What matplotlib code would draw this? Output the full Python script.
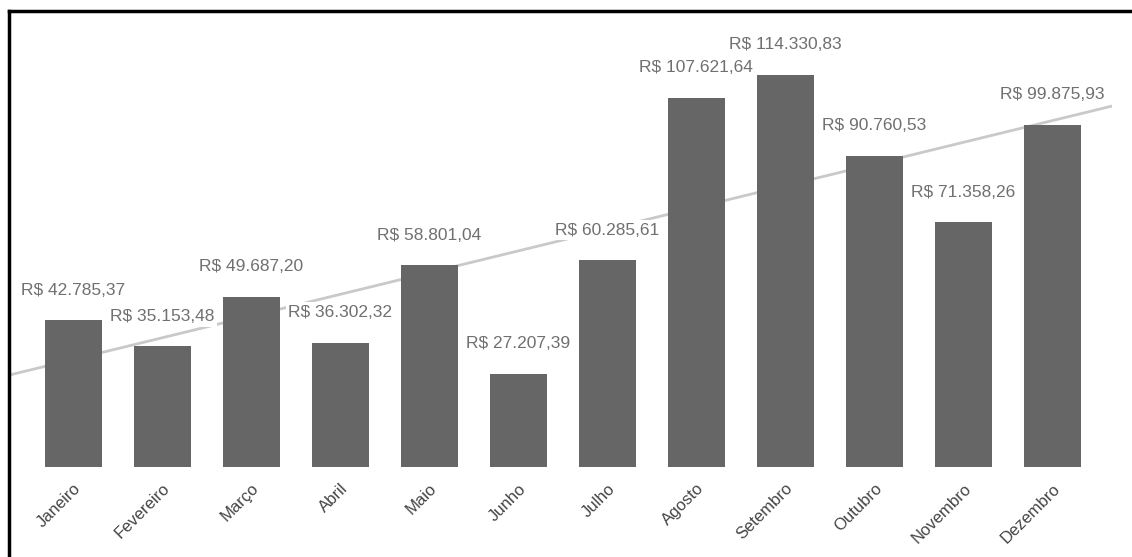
import numpy as np
import matplotlib
matplotlib.use("Agg")
import matplotlib.pyplot as plt
from matplotlib.lines import Line2D

plt.rcParams['font.family'] = ['Liberation Sans', 'DejaVu Sans']

meses = ["Janeiro", "Fevereiro", "Março", "Abril", "Maio", "Junho",
         "Julho", "Agosto", "Setembro", "Outubro", "Novembro", "Dezembro"]
valores = [42785.37, 35153.48, 49687.20, 36302.32, 58801.04, 27207.39,
           60285.61, 107621.64, 114330.83, 90760.53, 71358.26, 99875.93]
rotulos = ["R$ 42.785,37", "R$ 35.153,48", "R$ 49.687,20", "R$ 36.302,32",
           "R$ 58.801,04", "R$ 27.207,39", "R$ 60.285,61", "R$ 107.621,64",
           "R$ 114.330,83", "R$ 90.760,53", "R$ 71.358,26", "R$ 99.875,93"]

W, H = 1132, 557
fig = plt.figure(figsize=(W / 100, H / 100), dpi=100)
ax = fig.add_axes([10 / W, (H - 467) / H, 1102 / W, (467 - 21.2) / H])

x = np.arange(len(meses))
xlim = (-0.71, 11.67)

# linear trend line across the whole plot width
coef = np.polyfit(x, valores, 1)
xt = np.array(xlim)
ax.plot(xt, np.polyval(coef, xt), color="#c9c9c9", lw=2, zorder=1)

ax.bar(x, valores, width=0.64, color="#666666", zorder=2)

for xi, v, r in zip(x, valores, rotulos):
    ax.annotate(r, (xi, v), xytext=(0, 21.6), textcoords="offset points",
                ha="center", va="center", fontsize=12.5, color="#707070",
                bbox=dict(boxstyle="square,pad=0.15", fc="white", ec="none"),
                zorder=3)

ax.set_xlim(*xlim)
ax.set_ylim(0, 130000)
ax.set_xticks(x)
ax.set_xticklabels(meses, rotation=45, ha="right", va="top",
                   rotation_mode="anchor", fontsize=12, color="#444444")
ax.tick_params(axis="x", length=0, pad=10)
ax.set_yticks([])
for s in ax.spines.values():
    s.set_visible(False)

# frame edges along the left and top
fig.add_artist(Line2D([9 / W, 9 / W], [0, (H - 11) / H], color="black",
                      lw=2.5, transform=fig.transFigure))
fig.add_artist(Line2D([9 / W, 1], [(H - 11) / H, (H - 11) / H], color="black",
                      lw=2.5, transform=fig.transFigure))

fig.savefig("out.png", dpi=100)
